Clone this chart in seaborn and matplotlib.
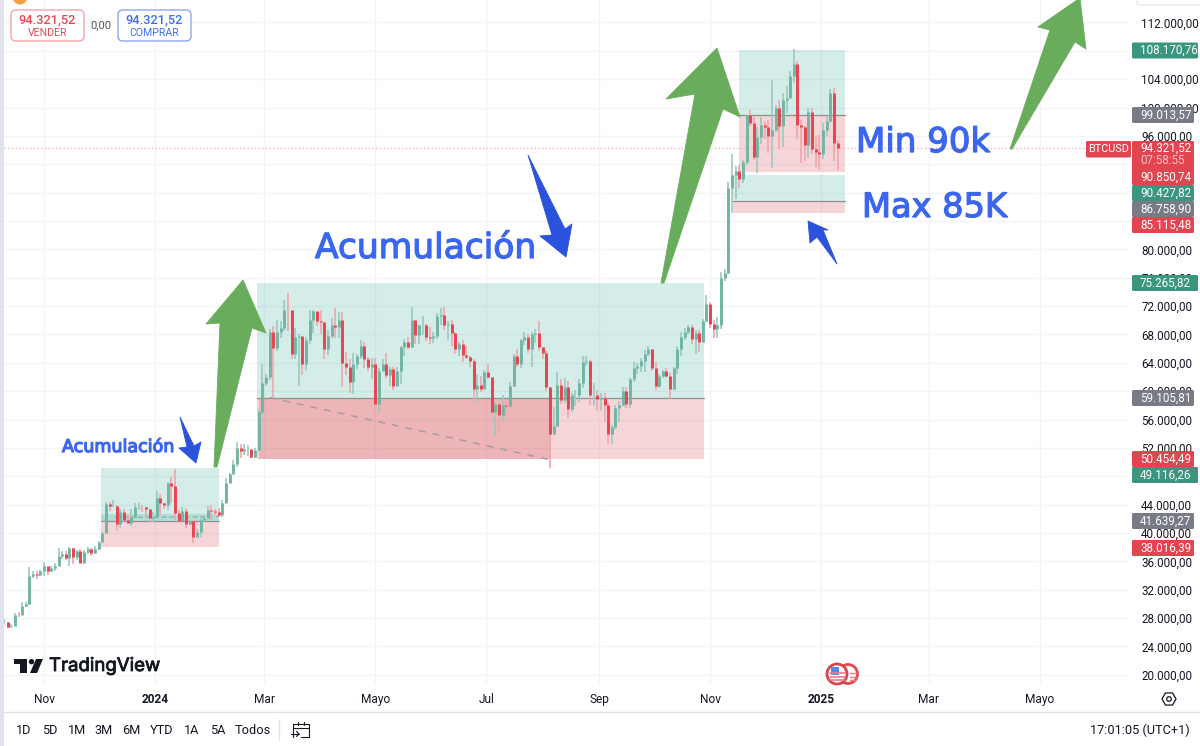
import matplotlib
matplotlib.use("Agg")
import matplotlib.pyplot as plt
import numpy as np
import pandas as pd
import seaborn as sns
from matplotlib.patches import Circle, FancyBboxPatch, Polygon, Rectangle
from matplotlib.ticker import FuncFormatter, FixedLocator
import matplotlib.patheffects as pe

# BTCUSD in thousands, one bar per two days starting 10 Oct 2023 (one row per month)
CLOSE = [
    27.4, 26.8, 26.9, 28.5, 28.4, 29.7, 30.0, 33.9, 34.2, 34.1, 34.6,
    35.4, 34.7, 35.0, 35.4, 36.7, 37.1, 36.5, 37.9, 36.6, 37.4, 35.8, 37.3, 37.8, 37.2, 37.8,
    38.7, 40.0, 44.1, 43.8, 43.8, 41.2, 42.9, 41.9, 41.4, 42.3, 43.7, 43.7, 43.6, 43.4, 42.1, 42.3,
    45.0, 44.2, 43.9, 47.0, 46.6, 42.8, 41.7, 43.1, 41.3, 41.7, 39.5, 40.1, 41.8, 42.1, 43.3,
    43.1, 43.0, 42.6, 44.3, 47.1, 48.3, 49.7, 52.0, 51.6, 51.8, 51.8, 50.7, 51.7, 57.0, 61.2,
    62.0, 68.3, 66.1, 68.3, 68.9, 71.5, 71.4, 65.3, 67.6, 67.8, 63.8, 67.2, 70.0, 71.3, 69.9,
    69.7, 65.9, 67.8, 69.4, 69.1, 70.0, 64.0, 63.4, 61.3, 63.8, 64.9, 66.4, 64.5, 63.4, 63.8,
    58.2, 62.9, 63.9, 62.3, 63.1, 60.8, 62.9, 66.2, 66.9, 66.3, 70.1, 67.9, 69.3, 69.4, 67.6, 67.5,
    67.8, 70.6, 70.8, 69.3, 69.5, 68.2, 66.0, 66.6, 65.1, 64.8, 64.3, 60.3, 60.9, 60.3, 62.7,
    62.0, 57.0, 58.2, 56.7, 58.0, 57.9, 60.8, 65.0, 63.9, 67.2, 67.6, 65.9, 68.0, 68.2, 66.2,
    65.4, 60.6, 53.9, 55.1, 60.9, 58.7, 60.6, 57.5, 59.5, 59.5, 61.2, 64.1, 64.2, 59.4, 59.4, 58.9,
    59.1, 58.0, 54.0, 55.0, 57.6, 58.1, 60.0, 58.2, 61.7, 63.2, 63.6, 64.3, 65.2, 65.9, 63.3,
    60.8, 62.1, 62.8, 62.2, 60.3, 63.2, 66.0, 67.6, 68.4, 69.0, 67.4, 68.2, 67.0, 69.9, 72.3,
    69.5, 68.8, 69.4, 75.9, 76.7, 88.7, 90.5, 91.1, 89.9, 92.3, 98.9, 97.8, 93.0, 95.9, 97.5,
    97.3, 96.0, 96.9, 99.9, 97.4, 101.1, 101.4, 104.5, 106.1, 97.6, 97.3, 94.7, 99.4, 94.2, 93.7, 93.4,
    96.9, 98.1, 102.1, 95.0, 94.3,
]
HIGH = [
    27.8, 27.4, 27.1, 28.7, 28.9, 30.2, 30.3, 35.2, 34.7, 34.6, 34.8,
    35.9, 35.0, 35.3, 35.8, 37.9, 37.4, 37.4, 38.0, 37.9, 37.6, 37.8, 37.6, 38.0, 37.9, 38.2,
    38.9, 40.2, 44.4, 44.4, 44.7, 44.0, 43.4, 43.4, 42.7, 43.4, 44.3, 44.3, 43.9, 43.7, 43.3, 42.9,
    45.9, 45.5, 44.3, 47.2, 47.9, 49.0, 43.2, 43.6, 43.5, 41.9, 41.9, 40.5, 42.2, 42.2, 43.8,
    43.9, 43.4, 43.5, 44.6, 47.7, 48.5, 50.3, 52.8, 52.5, 52.5, 52.4, 51.7, 52.0, 57.5, 63.9,
    62.4, 68.8, 69.2, 70.1, 69.9, 72.8, 73.8, 69.0, 68.9, 68.0, 67.6, 67.6, 71.5, 71.5, 70.9,
    71.4, 69.3, 68.7, 70.3, 71.8, 71.2, 71.2, 65.5, 64.5, 65.4, 65.3, 67.2, 67.0, 64.8, 64.7,
    64.7, 63.3, 64.6, 65.4, 63.4, 63.4, 63.4, 66.4, 67.4, 67.7, 71.9, 70.0, 69.4, 70.6, 69.5, 69.0,
    68.4, 71.0, 71.7, 71.9, 69.9, 70.0, 68.4, 66.9, 67.2, 66.4, 65.0, 64.5, 62.4, 62.1, 63.0,
    63.8, 60.4, 58.5, 58.2, 59.4, 58.6, 61.3, 65.3, 66.0, 67.4, 68.4, 68.0, 68.3, 68.8, 69.9,
    66.1, 65.6, 60.6, 57.7, 62.7, 61.7, 61.8, 61.5, 59.8, 60.2, 61.7, 64.9, 65.0, 64.4, 61.1, 60.2,
    59.8, 59.8, 58.5, 55.2, 58.0, 58.6, 60.6, 60.6, 61.8, 64.1, 64.0, 64.7, 65.8, 66.4, 66.0,
    64.1, 62.4, 63.0, 63.2, 62.5, 63.4, 66.4, 68.3, 68.9, 69.4, 69.4, 68.7, 68.7, 70.2, 73.5,
    72.6, 70.0, 70.5, 76.8, 77.2, 89.5, 93.4, 91.7, 91.9, 92.6, 99.0, 99.6, 98.7, 97.2, 98.7,
    98.0, 98.2, 103.9, 100.4, 101.0, 102.0, 103.0, 105.2, 108.2, 106.5, 98.3, 97.4, 99.9, 99.9, 95.9, 96.1,
    97.8, 98.8, 102.6, 102.7, 95.4,
]
LOW = [
    27.2, 26.6, 26.8, 26.9, 28.1, 28.4, 29.6, 29.9, 33.7, 33.5, 33.9,
    33.9, 34.1, 34.5, 34.6, 35.3, 36.3, 36.2, 35.4, 35.6, 36.2, 35.7, 35.7, 37.1, 36.8, 37.1,
    37.6, 38.7, 39.9, 43.1, 43.6, 40.3, 40.7, 41.6, 41.4, 41.0, 42.3, 43.3, 43.0, 42.2, 41.5, 41.6,
    42.2, 42.6, 43.4, 43.2, 44.3, 41.8, 41.5, 41.7, 40.7, 41.1, 38.6, 39.5, 39.5, 41.5, 41.8,
    41.9, 42.5, 42.2, 42.3, 44.3, 47.0, 48.3, 49.3, 50.6, 51.0, 50.9, 50.6, 50.6, 51.6, 56.7,
    60.8, 61.6, 59.2, 65.7, 67.5, 68.5, 68.5, 64.6, 64.6, 60.8, 62.3, 62.8, 66.6, 68.2, 69.2,
    68.0, 64.5, 65.1, 67.5, 67.5, 67.5, 60.6, 62.3, 59.7, 59.6, 63.1, 64.5, 63.3, 62.8, 61.7,
    56.7, 56.9, 62.9, 61.8, 60.7, 60.2, 60.7, 61.0, 64.9, 65.9, 66.1, 66.6, 66.7, 67.9, 67.1, 66.6,
    66.8, 67.3, 69.4, 68.7, 67.2, 66.4, 65.2, 65.0, 64.1, 64.5, 63.4, 58.4, 58.5, 59.9, 60.6,
    61.7, 56.8, 53.5, 54.3, 55.8, 56.5, 57.8, 60.6, 63.4, 63.3, 66.5, 65.4, 63.4, 66.8, 65.7,
    64.5, 60.0, 49.1, 53.9, 55.5, 58.2, 58.4, 56.2, 57.0, 57.9, 58.5, 60.4, 63.6, 58.1, 57.9, 57.2,
    57.2, 55.6, 52.6, 52.6, 54.6, 55.6, 57.9, 57.6, 57.6, 61.3, 62.4, 62.7, 62.7, 65.0, 62.9,
    60.1, 60.4, 61.8, 61.8, 58.9, 60.1, 62.4, 65.0, 67.2, 68.1, 66.6, 65.3, 65.5, 67.5, 69.7,
    68.9, 67.5, 67.5, 68.8, 75.6, 76.5, 85.1, 87.1, 88.7, 89.4, 91.9, 97.4, 92.6, 90.8, 94.9,
    95.5, 93.6, 91.5, 96.5, 94.2, 94.4, 99.3, 101.3, 103.5, 95.6, 92.2, 92.5, 92.9, 93.5, 91.6, 91.3,
    92.7, 96.0, 97.9, 92.5, 91.2,
]
FIRST_BAR_DAY = -22          # days relative to 1 Nov 2023
BAR_STEP = 2

# Time axis: days since 1 Nov 2023
MONTH_DAYS = [0, 61, 121, 182, 243, 305, 366, 427, 486, 547]
MONTH_LABELS = ["Nov", "2024", "Mar", "Mayo", "Jul", "Sep", "Nov", "2025", "Mar", "Mayo"]

LAST_PRICE = 94321.52

# Long/short position ranges: (start day, end day, top, entry, bottom)
POSITION_RANGES = [
    (31.3, 96.2, 49116.26, 41639.27, 38016.39),
    (117.0, 362.6, 75265.82, 59105.81, 50454.49),
    (381.9, 440.1, 108170.76, 99013.57, 90850.74),
    (378.6, 440.1, 90427.82, 86758.90, 85115.48),
]

# Price scale tags
TAG_PRICES = [108170.76, 99013.57, 90850.74, 90427.82, 86758.90, 85115.48,
              75265.82, 59105.81, 50454.49, 49116.26, 41639.27, 38016.39]
TAG_KINDS = ["up", "mid", "down", "up", "mid", "down", "up", "mid", "down", "up", "mid", "down"]

# Round prices that sit fully behind a tag carry no scale label
COVERED_TICKS = {108000, 92000, 88000, 84000, 48000}

TEAL, RED, GRAY, BLUE, GREEN_ARROW, ROYAL = "#3b957f", "#e04550", "#787b86", "#3a66f0", "#69ad5c", "#2a52dd"
INK = "#131722"
GRID = "#f3f4f6"
BORDER = "#e0e3eb"


def es_number(v):
    return f"{v:,.2f}".replace(",", "X").replace(".", ",").replace("X", ".")


def scale_label(v, _):
    return "" if int(round(v)) in COVERED_TICKS else es_number(v)


sns.set_theme(style="white", rc={"axes.edgecolor": "white"})
plt.rcParams["font.family"] = ["Roboto", "DejaVu Sans"]

W, H = 1200, 746
fig = plt.figure(figsize=(W / 100, H / 100), dpi=100, facecolor="white")

# Price pane, sized so that 1000 USD is 7.09 px and a day is 1.82 px
ax = fig.add_axes([4 / W, (H - 685) / H, 1126 / W, 685 / H])
ax.set_facecolor("white")

close = np.array(CLOSE) * 1000
high = np.array(HIGH) * 1000
low = np.array(LOW) * 1000
opening = np.r_[close[0], close[:-1]]
days = FIRST_BAR_DAY + BAR_STEP * np.arange(len(close))
direction = np.where(close >= opening, "up", "down")
n = len(close)

wicks = pd.DataFrame({
    "bar": np.r_[np.arange(n), np.arange(n)],
    "day": np.r_[days, days],
    "price": np.r_[low, high],
    "dir": np.r_[direction, direction],
})
bodies = pd.DataFrame({
    "bar": np.r_[np.arange(n), np.arange(n)],
    "day": np.r_[days, days],
    "price": np.r_[opening, close],
    "dir": np.r_[direction, direction],
})

GREEN_ZONE = dict(fc="#089981", alpha=0.17, lw=0, zorder=1)
RED_ZONE = dict(fc="#d5444d", alpha=0.22, lw=0, zorder=1)

for start, end, top, mid, bottom in POSITION_RANGES:
    ax.add_patch(Rectangle((start, mid), end - start, top - mid, **GREEN_ZONE))
    ax.add_patch(Rectangle((start, bottom), end - start, mid - bottom, **RED_ZONE))
    ax.plot([start, end], [mid, mid], color="#8f8f8f", lw=0.9, zorder=1.5)

# Extra overlays inside the first two ranges
ax.add_patch(Rectangle((31.3, 41639.27), 64.9, 1000, **GREEN_ZONE))
ax.plot([39, 96], [42200, 42300], color="#8f9f99", lw=0.8, ls=(0, (4, 3)), zorder=1.5)
ax.add_patch(Rectangle((118.0, 50454.49), 160.6, 59105.81 - 50454.49, **RED_ZONE))
ax.plot([124, 278.6], [59105.81, 50300], color="#a09a9c", lw=1.0, ls=(0, (5, 5)), zorder=1.6)

sns.lineplot(data=wicks, x="day", y="price", units="bar", estimator=None, hue="dir",
             palette={"up": "#9ccabf", "down": "#f0a6ac"}, linewidth=1.2, legend=False,
             solid_capstyle="butt", ax=ax, zorder=2)
sns.lineplot(data=bodies, x="day", y="price", units="bar", estimator=None, hue="dir",
             palette={"up": "#72b5a5", "down": "#e8434f"}, linewidth=2.1, legend=False,
             solid_capstyle="butt", ax=ax, zorder=3)

ax.axhline(LAST_PRICE, color="#f6b6ba", ls=":", lw=1.0, zorder=1.8)

ax.set_xlim(-21.98, 596.7)
ax.set_ylim(18561, 115173)
ax.set_xlabel("")
ax.set_ylabel("")
for spine in ax.spines.values():
    spine.set_visible(False)

ax.xaxis.set_major_locator(FixedLocator(MONTH_DAYS))
ax.set_xticklabels(MONTH_LABELS, fontsize=8.6, color=INK)
for tick_label, text in zip(ax.get_xticklabels(), MONTH_LABELS):
    if text.isdigit():
        tick_label.set_fontweight("bold")
ax.yaxis.tick_right()
ax.yaxis.set_major_locator(FixedLocator(np.arange(20000, 116000, 4000)))
ax.yaxis.set_major_formatter(FuncFormatter(scale_label))
ax.tick_params(axis="y", length=0, pad=8, labelsize=8.4, labelcolor=INK)
ax.tick_params(axis="x", length=0, pad=5.5)
ax.grid(True, color=GRID, lw=1.0)
ax.set_axisbelow(True)

# Interface layer, measured in pixels from the top left corner
ui = fig.add_axes([0, 0, 1, 1], zorder=5)
ui.set_xlim(0, W)
ui.set_ylim(H, 0)
ui.axis("off")
ui.patch.set_alpha(0)

ui.add_patch(Rectangle((0, 0), 4, H, fc=BORDER, lw=0))
ui.plot([4, W], [712, 712], color=BORDER, lw=1.0)
ui.add_patch(Circle((20, -3), 7.5, fc="#f5a142", lw=0))
ui.add_patch(FancyBboxPatch((1137, -8), 70, 13, boxstyle="round,pad=0,rounding_size=3", fc="white", ec=BORDER, lw=0.8))


def button(x, w, edge, color, price, label):
    ui.add_patch(FancyBboxPatch((x, 10), w, 31, boxstyle="round,pad=0,rounding_size=5",
                                fc="white", ec=edge, lw=1.0))
    ui.text(x + w / 2, 20, price, color=color, fontsize=9.2, ha="center", va="center", fontweight="medium")
    ui.text(x + w / 2, 32.5, label, color=color, fontsize=7.6, ha="center", va="center")


button(11, 73, "#f7a5a9", "#e5484f", es_number(LAST_PRICE), "VENDER")
button(118, 73, "#8ea5f7", "#3d6ef0", es_number(LAST_PRICE), "COMPRAR")
ui.text(101, 25.5, "0,00", color="#50535e", fontsize=8, ha="center", va="center")


def tag(y0, y1, right, color):
    ui.add_patch(FancyBboxPatch((1132, y0), right - 1132, y1 - y0, boxstyle="round,pad=0,rounding_size=1.5",
                                fc=color, lw=0))


TAG_COLORS = {"up": TEAL, "mid": GRAY, "down": RED}
TAG_CENTERS = [50.5, 115, 177, 193, 209, 225, 283, 398, 459, 475, 521, 548]
TAG_RIGHTS = [1198, 1194, 1194, 1194, 1194, 1194, 1198, 1194, 1194, 1198, 1194, 1194]

tag(141, 185, 1194, RED)
for price, kind, cy, right in zip(TAG_PRICES, TAG_KINDS, TAG_CENTERS, TAG_RIGHTS):
    if cy != 177:
        tag(cy - 8, cy + 8, right, TAG_COLORS[kind])
    ui.text(1140, cy, es_number(price), color="white", fontsize=8.4, va="center", ha="left")
ui.text(1140, 148.5, es_number(LAST_PRICE), color="white", fontsize=8.4, va="center", ha="left")
ui.text(1140, 161, "07:58:55", color="#f7c3c7", fontsize=8.4, va="center", ha="left")
ui.add_patch(FancyBboxPatch((1086, 141), 45, 16.5, boxstyle="round,pad=0,rounding_size=1.5", fc=RED, lw=0))
ui.text(1108.5, 149.5, "BTCUSD", color="white", fontsize=7.8, va="center", ha="center")

ARROWS = [
    (GREEN_ARROW, [(243, 280), (266, 333), (252, 328), (217, 467), (214, 467), (220, 323), (206, 324)]),
    (GREEN_ARROW, [(717, 48), (740, 117), (723, 109), (664, 283), (661, 283), (695, 94), (666, 99)]),
    (GREEN_ARROW, [(1080, -2), (1086, 49), (1075, 42), (1012, 149), (1010, 149), (1050, 30), (1038, 27)]),
    (ROYAL, [(180, 417), (194, 446), (201, 442), (196, 463), (179, 448), (187, 447), (180, 417)]),
    (ROYAL, [(528, 155), (565, 229), (572, 224), (566, 257), (540, 236), (552, 235), (528, 155)]),
    (ROYAL, [(808, 221), (828, 230), (823, 230), (837, 264), (817, 237), (810, 243)]),
]
for color, points in ARROWS:
    ui.add_patch(Polygon(points, closed=True, fc=color, ec=color, lw=0.6, joinstyle="round"))

big = dict(color=BLUE, family="DejaVu Sans", ha="left", va="baseline",
           path_effects=[pe.withStroke(linewidth=0.9, foreground=BLUE)])
ui.text(315, 258, "Acumulación", fontsize=24.8, **big)
ui.text(856, 152, "Min 90k", fontsize=24.5, **big)
ui.text(862, 217, "Max 85K", fontsize=24.2, **big)
ui.text(62, 452, "Acumulación", fontsize=12.6, **big)

# TradingView mark and wordmark
ui.add_patch(Polygon([(14, 659), (27, 659), (27, 673), (20, 673), (20, 664), (14, 664)], fc=INK, lw=0))
ui.add_patch(Circle((31.5, 661.7), 2.7, fc=INK, lw=0))
ui.add_patch(Polygon([(36, 659), (43, 659), (37, 673), (30, 673)], fc=INK, lw=0))
ui.text(49, 666.5, "TradingView", color=INK, fontsize=13.4, family="Inter", va="center", ha="left",
        path_effects=[pe.withStroke(linewidth=0.6, foreground=INK)])

# Country marker on the time line
ui.add_patch(Circle((848, 674), 9.5, fc="white", ec="#e5484f", lw=2.0))
ui.add_patch(Circle((837, 674), 10, fc="white", ec="#d9434f", lw=2.0))
for stripe_y in (672.5, 676.5, 680):
    ui.plot([829.5, 845], [stripe_y, stripe_y], color="#ef7c82", lw=1.2)
    ui.plot([850, 855.5], [stripe_y, stripe_y], color="#ef7c82", lw=1.0)
ui.add_patch(Rectangle((831, 667), 7.5, 7.5, fc="#4c8df0", lw=0))

# Settings glyph at the end of the time scale
angles = np.deg2rad(np.arange(0, 360, 60))
ui.add_patch(Polygon(np.c_[1169 + 7 * np.cos(angles), 699 + 7 * np.sin(angles)], fc="white", ec=INK, lw=0.9))
ui.add_patch(Circle((1169, 699), 2.3, fc="white", ec=INK, lw=0.9))

# Range buttons
RANGE_LABELS = ["1D", "5D", "1M", "3M", "6M", "YTD", "1A", "5A", "Todos"]
RANGE_CENTERS = [24, 50, 77, 104, 131, 162, 192, 218, 253]
for label, x in zip(RANGE_LABELS, RANGE_CENTERS):
    ui.text(x, 730, label, color=INK, fontsize=9.2, ha="center", va="center")
ui.plot([279, 279], [720, 740], color=BORDER, lw=1)

# Go-to-date glyph
ui.plot([293, 293, 309, 309, 301], [737, 724, 724, 737, 737], color=INK, lw=0.8)
ui.plot([293, 309], [728, 728], color=INK, lw=0.8)
ui.plot([298, 298], [721.5, 725], color=INK, lw=0.8)
ui.plot([304, 304], [721.5, 725], color=INK, lw=0.8)
ui.add_patch(Rectangle((291, 730), 5, 8, fc="white", lw=0))
ui.plot([291, 299], [734, 734], color=INK, lw=0.8)
ui.plot([296.5, 299, 296.5], [731.5, 734, 736.5], color=INK, lw=0.8)

ui.text(1190, 730, "17:01:05 (UTC+1)", color=INK, fontsize=9.2, ha="right", va="center")

fig.savefig("out.png", dpi=100)
